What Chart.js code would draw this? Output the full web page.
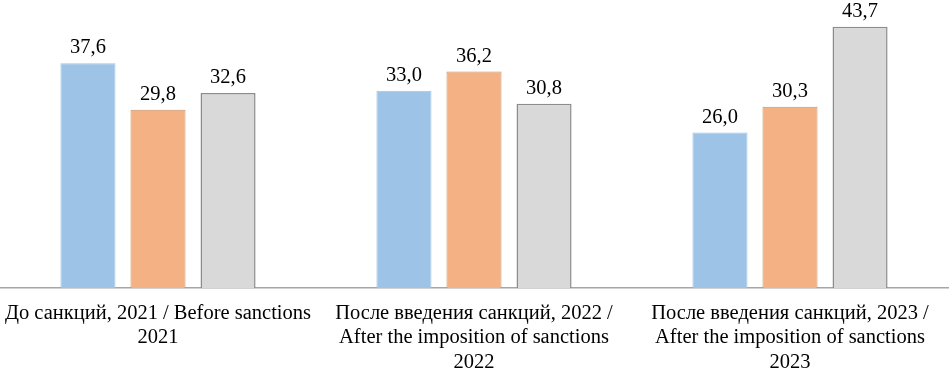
<!DOCTYPE html>
<html>
<head>
<meta charset="utf-8">
<script src="https://cdn.jsdelivr.net/npm/chart.js@4/dist/chart.umd.min.js"></script>
<style>
  html, body { margin: 0; padding: 0; background: #fff; }
  #wrap { width: 950px; height: 369px; position: relative; }
</style>
</head>
<body>
<div id="wrap"><canvas id="chart"></canvas></div>
<script>
const categories = [
  ['До санкций, 2021 / Before sanctions', '2021'],
  ['После введения санкций, 2022 /', 'After the imposition of sanctions', '2022'],
  ['После введения санкций, 2023 /', 'After the imposition of sanctions', '2023']
];
const seriesA = [37.6, 33.0, 26.0];
const seriesB = [29.8, 36.2, 30.3];
const seriesC = [32.6, 30.8, 43.7];

const fontFamily = '"Liberation Serif", "Times New Roman", serif';

const valueLabels = {
  id: 'valueLabels',
  afterDatasetsDraw(chart) {
    const ctx = chart.ctx;
    ctx.save();
    ctx.font = '20.5px ' + fontFamily;
    ctx.fillStyle = '#000';
    ctx.textAlign = 'center';
    ctx.textBaseline = 'bottom';
    chart.data.datasets.forEach((ds, i) => {
      chart.getDatasetMeta(i).data.forEach((bar, j) => {
        ctx.fillText(ds.data[j].toFixed(1).replace('.', ','), bar.x, bar.y - 5);
      });
    });
    ctx.restore();
  }
};

const ctx = document.getElementById('chart').getContext('2d');
new Chart(ctx, {
  type: 'bar',
  data: {
    labels: categories,
    datasets: [
      { data: seriesA, backgroundColor: '#9DC3E6', borderColor: '#9DC3E6', borderWidth: 1 },
      { data: seriesB, backgroundColor: '#F4B183', borderColor: '#C9936A', borderWidth: 1 },
      { data: seriesC, backgroundColor: '#D9D9D9', borderColor: '#8C8C8C', borderWidth: 1.5 }
    ]
  },
  options: {
    responsive: true,
    maintainAspectRatio: false,
    animation: false,
    layout: { padding: { top: 1, left: 0, right: 2, bottom: 0 } },
    plugins: { legend: { display: false }, tooltip: { enabled: false } },
    datasets: { bar: { categoryPercentage: 0.665, barPercentage: 0.786 } },
    scales: {
      x: {
        grid: { display: false, drawTicks: false },
        border: { display: true, color: '#A6A6A6', width: 1.5 },
        ticks: {
          color: '#000', padding: 13, maxRotation: 0, autoSkip: false,
          font: { family: fontFamily, size: 20.5, lineHeight: 1.2 }
        },
        afterFit(scale) {
          scale.height = 81;
          scale.paddingLeft = 0;
          scale.paddingRight = 0;
        }
      },
      y: {
        display: false,
        min: 0,
        max: 48
      }
    }
  },
  plugins: [valueLabels]
});
</script>
</body>
</html>
